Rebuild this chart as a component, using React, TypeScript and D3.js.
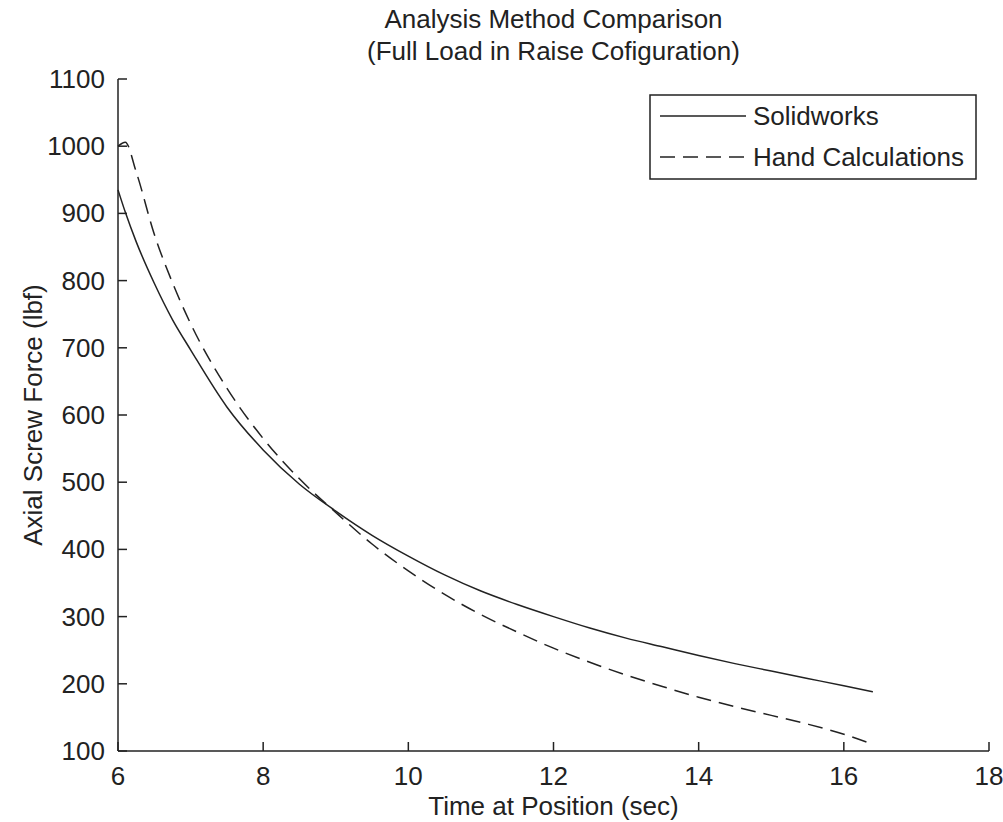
import React from "react";
import * as d3 from "d3";

const xTicks = [6, 8, 10, 12, 14, 16, 18];
const yTicks = [100, 200, 300, 400, 500, 600, 700, 800, 900, 1000, 1100];

const timeValues = [6.0, 6.1, 6.25, 6.5, 6.75, 7.0, 7.5, 8.0, 8.5, 9.0, 9.5, 10.0, 10.5, 11.0, 11.5, 12.0, 12.5, 13.0, 13.5, 14.0, 14.5, 15.0, 15.5, 16.0, 16.4];
const solidworks = [935, 902, 858, 796, 742, 697, 612, 548, 497, 457, 421, 390, 362, 338, 318, 300, 283, 268, 255, 242, 230, 219, 208, 197, 188];
const handCalc = [1000, 1006, 962, 869, 797, 736, 640, 565, 505, 455, 408, 368, 333, 303, 277, 253, 232, 213, 196, 180, 166, 153, 140, 125, 110];

const seriesNames = ["Solidworks", "Hand Calculations"];
const titleLines = ["Analysis Method Comparison", "(Full Load in Raise Cofiguration)"];
const xLabel = "Time at Position (sec)";
const yLabel = "Axial Screw Force (lbf)";

const W = 1003;
const H = 822;
const L = 118, R = 989, T = 79, B = 751;
const FONT = "'Liberation Sans', Arial, sans-serif";
const FS = 26;
const DASH = "15,8";
const INK = "#222";

export default function App() {
  const x = d3.scaleLinear().domain([6, 18]).range([L, R]);
  const y = d3.scaleLinear().domain([100, 1100]).range([B, T]);
  const line = d3.line<number>().x((_, i) => x(timeValues[i])).y((d) => y(d)).curve(d3.curveMonotoneX);
  const tickLen = 9;
  const lx = 650, ly = 95, lw = 326, lh = 84;
  return (
    <svg width={W} height={H} style={{ position: "absolute", left: 0, top: 0, background: "#fff" }} fontFamily={FONT}>
      <rect x={0} y={0} width={W} height={H} fill="#fff" />
      {titleLines.map((t, i) => (
        <text key={t} x={(L + R) / 2} y={28 + i * 32} textAnchor="middle" fontSize={FS} fill={INK}>{t}</text>
      ))}
      <path d={line(solidworks) || ""} fill="none" stroke={INK} strokeWidth={1.5} />
      <path d={line(handCalc) || ""} fill="none" stroke={INK} strokeWidth={1.5} strokeDasharray={DASH} />
      <line x1={L} x2={L} y1={T} y2={B} stroke={INK} strokeWidth={1.5} />
      <line x1={L} x2={R} y1={B} y2={B} stroke={INK} strokeWidth={1.5} />
      {yTicks.map((v) => (
        <g key={v}>
          <line x1={L} x2={L + tickLen} y1={y(v)} y2={y(v)} stroke={INK} strokeWidth={1.5} />
          <text x={105} y={y(v) + 9} textAnchor="end" fontSize={FS} fill={INK}>{v}</text>
        </g>
      ))}
      {xTicks.map((v) => (
        <g key={v}>
          <line x1={x(v)} x2={x(v)} y1={B} y2={B - tickLen} stroke={INK} strokeWidth={1.5} />
          <text x={x(v)} y={B + 34} textAnchor="middle" fontSize={FS} fill={INK}>{v}</text>
        </g>
      ))}
      <text x={(L + R) / 2} y={815} textAnchor="middle" fontSize={FS} fill={INK}>{xLabel}</text>
      <text transform={`translate(42,${(T + B) / 2}) rotate(-90)`} textAnchor="middle" fontSize={FS} fill={INK}>{yLabel}</text>
      <rect x={lx} y={ly} width={lw} height={lh} fill="#fff" stroke={INK} strokeWidth={1.5} />
      <line x1={lx + 10} x2={746} y1={116} y2={116} stroke={INK} strokeWidth={1.5} />
      <text x={753} y={116 + 9} fontSize={FS} fill={INK}>{seriesNames[0]}</text>
      <line x1={lx + 10} x2={746} y1={157} y2={157} stroke={INK} strokeWidth={1.5} strokeDasharray={DASH} />
      <text x={753} y={157 + 9} fontSize={FS} fill={INK}>{seriesNames[1]}</text>
    </svg>
  );
}
